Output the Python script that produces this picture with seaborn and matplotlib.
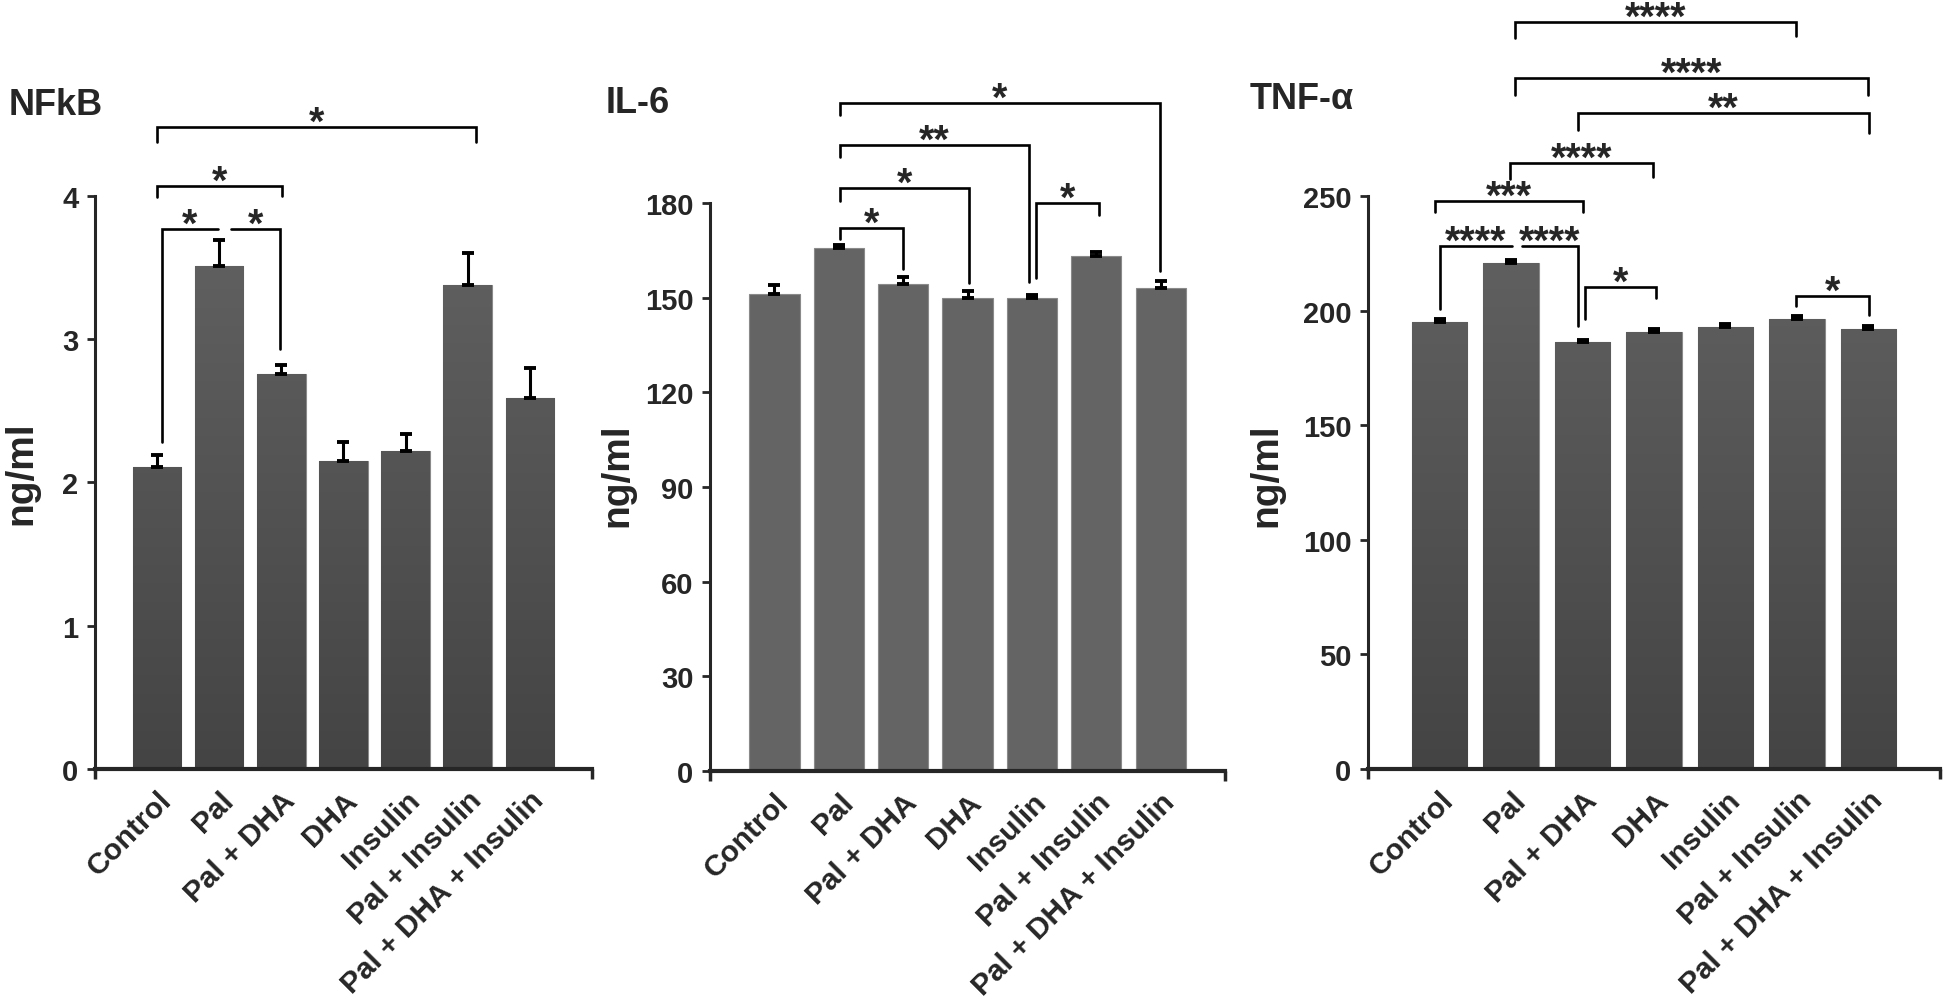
import numpy as np
import matplotlib
matplotlib.use('Agg')
import matplotlib.pyplot as plt
import seaborn as sns
from matplotlib.colors import LinearSegmentedColormap

groups = ['Control', 'Pal', 'Pal + DHA', 'DHA', 'Insulin', 'Pal + Insulin', 'Pal + DHA + Insulin']

nfkb_mean = [2.11, 3.51, 2.76, 2.15, 2.22, 3.38, 2.59]
nfkb_err = [0.08, 0.18, 0.06, 0.13, 0.12, 0.22, 0.21]
il6_mean = [151.2, 165.7, 154.3, 149.9, 149.9, 163.2, 153.1]
il6_err = [2.8, 1.0, 2.2, 2.2, 0.9, 1.3, 2.2]
tnf_mean = [195.0, 220.8, 186.3, 190.7, 192.8, 196.3, 192.0]
tnf_err = [1.3, 1.3, 0.9, 1.3, 1.4, 1.3, 1.3]

# brackets: (x left, x right, bracket height, left leg end, right leg end, stars)
nfkb_sig = [
    (0.0, 5.13, 4.48, 4.38, 4.38, '*'),
    (0.0, 2.01, 4.07, 3.99, 4.00, '*'),
    (0.08, 0.98, 3.77, 2.28, None, '*'),
    (1.19, 1.98, 3.77, None, 2.93, '*'),
]
il6_sig = [
    (1.02, 2.0, 172.1, 168.6, 159.1, '*'),
    (1.02, 3.02, 184.8, 180.6, 154.6, '*'),
    (1.02, 3.95, 198.4, 194.6, 155.0, '**'),
    (4.06, 5.05, 180.0, 156.2, 176.2, '*'),
    (1.02, 5.99, 211.7, 207.9, 158.5, '*'),
]
tnf_sig = [
    (0.0, 1.02, 228.2, 200.7, None, '****'),
    (1.15, 1.93, 228.2, None, 193.3, '****'),
    (-0.06, 2.0, 247.8, 243.0, 243.0, '***'),
    (0.98, 2.99, 264.4, 257.4, 258.3, '****'),
    (2.03, 3.03, 210.3, 196.3, 205.5, '*'),
    (4.99, 6.01, 206.4, 202.0, 198.1, '*'),
    (1.94, 6.01, 286.2, 278.8, 277.5, '**'),
    (1.06, 5.99, 301.5, 294.1, 294.1, '****'),
    (1.06, 4.99, 325.9, 318.9, 319.8, '****'),
]

sns.set_style('ticks')
plt.rcParams['font.family'] = ['Liberation Sans', 'DejaVu Sans']
plt.rcParams['font.weight'] = 'bold'

fig = plt.figure(figsize=(19.46, 10.03), dpi=100)

panels = [
    ('NFkB', nfkb_mean, nfkb_err, nfkb_sig, 4, 1, True,
     [0.0488, 0.2323, 0.2554, 0.5713], (0.0046, 0.8953), (0.0108, 0.5284)),
    ('IL-6', il6_mean, il6_err, il6_sig, 180, 30, False,
     [0.3649, 0.2303, 0.2646, 0.5663], (0.3114, 0.8973), (0.3170, 0.5264)),
    ('TNF-α', tnf_mean, tnf_err, tnf_sig, 250, 50, True,
     [0.7030, 0.2323, 0.2939, 0.5713], (0.6423, 0.9003), (0.6510, 0.5264)),
]

grad_cmap = LinearSegmentedColormap.from_list('bar', ['#444444', '#636363'])

for title, mean, err, sig, ymax, ystep, shaded, rect, tpos, lpos in panels:
    ax = fig.add_axes(rect)
    sns.barplot(x=groups, y=mean, color='#646464', width=0.78, saturation=1,
                errorbar=None, edgecolor='#8a8a8a', linewidth=0.8, ax=ax, zorder=2)
    if shaded:
        grad = np.linspace(0, 1, 256).reshape(-1, 1)
        for p in ax.patches:
            x0 = p.get_x()
            im = ax.imshow(grad, extent=[x0, x0 + p.get_width(), 0, ymax], origin='lower',
                           aspect='auto', cmap=grad_cmap, zorder=2.1)
            im.set_clip_path(p)
    ax.errorbar(range(len(groups)), mean, yerr=[np.zeros(len(err)), err], fmt='none',
                ecolor='black', elinewidth=2.2, capsize=4, capthick=2.8, zorder=3)

    ax.set_xlim(-1, 7)
    ax.set_ylim(0, ymax)
    ax.set_yticks(np.arange(0, ymax + ystep / 2, ystep))
    ax.set_xticks([-1, 7], minor=True)
    ax.set_xticklabels(groups, rotation=45, ha='right', va='top', rotation_mode='anchor',
                       fontsize=21.5, fontweight='bold')
    ax.tick_params(axis='x', which='major', length=0, pad=12)
    ax.tick_params(axis='x', which='minor', length=7, width=2.5, direction='out')
    ax.tick_params(axis='y', length=6, width=2, labelsize=21, pad=6)
    for lab in ax.get_yticklabels():
        lab.set_fontweight('bold')
    sns.despine(ax=ax)
    ax.spines['left'].set_linewidth(2.2)
    ax.spines['bottom'].set_linewidth(3)
    ax.set_xlabel('')
    ax.set_ylabel('')

    for x1, x2, h, e1, e2, stars in sig:
        xs, ys = [x1, x2], [h, h]
        if e1 is not None:
            xs, ys = [x1] + xs, [e1] + ys
        if e2 is not None:
            xs, ys = xs + [x2], ys + [e2]
        ax.plot(xs, ys, color='black', lw=1.9, clip_on=False, zorder=4,
                solid_joinstyle='miter')
        ax.annotate(stars, xy=((x1 + x2) / 2, h), xytext=(0, -5), textcoords='offset points',
                    ha='center', va='baseline', fontsize=28.5, fontweight='bold',
                    annotation_clip=False)

    fig.text(tpos[0], tpos[1], title, fontsize=26, fontweight='bold', ha='left', va='center')
    fig.text(lpos[0], lpos[1], 'ng/ml', fontsize=28, fontweight='bold', rotation=90,
             ha='center', va='center')

fig.savefig('out.png', dpi=100, facecolor='white')
